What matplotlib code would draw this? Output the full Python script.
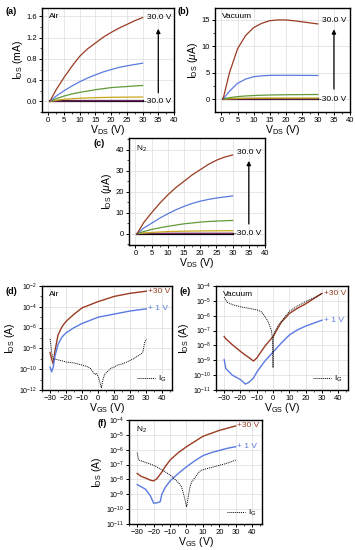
import numpy as np
import matplotlib
matplotlib.use("Agg")
import matplotlib.pyplot as plt
from matplotlib.ticker import MultipleLocator, LogLocator, NullFormatter

plt.rcParams['font.family'] = ['Liberation Sans', 'DejaVu Sans']
plt.rcParams['mathtext.fontset'] = 'custom'
plt.rcParams['mathtext.rm'] = 'Liberation Sans'
plt.rcParams['mathtext.it'] = 'Liberation Sans:italic'

BROWN = '#9b3b22'
BLUE = '#5a7ae0'
GREEN = '#629a38'
YELLOW = '#c9a81a'
PURPLE = '#7a2a6a'

# output curves (VDS in V)
vds = [0.5, 2.5, 5, 7.5, 10, 12.5, 15, 17.5, 20, 22.5, 25, 27.5, 30]

# (a) air, mA
air_out = {
    'black': [0] * 13,
    'purple': [0, 0.004, 0.007, 0.009, 0.01, 0.011, 0.012, 0.012, 0.013, 0.013, 0.013, 0.013, 0.013],
    'yellow': [0, 0.02, 0.04, 0.05, 0.06, 0.065, 0.07, 0.074, 0.077, 0.079, 0.08, 0.081, 0.082],
    'green': [0, 0.05, 0.1, 0.14, 0.17, 0.195, 0.22, 0.24, 0.26, 0.27, 0.28, 0.29, 0.3],
    'blue': [0, 0.1, 0.2, 0.29, 0.37, 0.44, 0.5, 0.555, 0.6, 0.64, 0.67, 0.695, 0.72],
    'brown': [0, 0.22, 0.45, 0.66, 0.85, 0.99, 1.1, 1.21, 1.3, 1.38, 1.45, 1.52, 1.58],
}
# (b) vacuum, uA
vac_out = {
    'black': [0] * 13,
    'purple': [0, 0.02, 0.04, 0.05, 0.05, 0.05, 0.05, 0.05, 0.05, 0.05, 0.05, 0.05, 0.05],
    'yellow': [0, 0.1, 0.15, 0.18, 0.2, 0.2, 0.21, 0.21, 0.21, 0.21, 0.21, 0.21, 0.21],
    'green': [0, 0.3, 0.5, 0.62, 0.7, 0.76, 0.8, 0.83, 0.85, 0.87, 0.88, 0.89, 0.9],
    'blue': [0, 1.5, 3.0, 3.8, 4.25, 4.42, 4.5, 4.52, 4.52, 4.52, 4.5, 4.5, 4.48],
    'brown': [0, 5.0, 9.5, 12.0, 13.5, 14.3, 14.8, 14.95, 14.95, 14.8, 14.6, 14.4, 14.2],
}
# (c) N2, uA
n2_out = {
    'black': [0] * 13,
    'purple': [0, 0.05, 0.1, 0.12, 0.14, 0.15, 0.15, 0.16, 0.16, 0.16, 0.16, 0.16, 0.16],
    'yellow': [0, 0.3, 0.6, 0.8, 1.0, 1.1, 1.2, 1.25, 1.3, 1.33, 1.36, 1.38, 1.4],
    'green': [0, 1.0, 2.0, 2.8, 3.5, 4.1, 4.7, 5.1, 5.5, 5.8, 6.0, 6.15, 6.3],
    'blue': [0, 2.6, 5.0, 7.4, 9.5, 11.4, 13.0, 14.4, 15.5, 16.3, 17.0, 17.5, 18.0],
    'brown': [0, 5.2, 10.0, 14.5, 18.5, 22.0, 25.0, 28.0, 30.5, 33.0, 35.0, 36.5, 37.5],
}
order = ['black', 'purple', 'yellow', 'green', 'blue', 'brown']
colmap = {'black': 'k', 'purple': PURPLE, 'yellow': YELLOW, 'green': GREEN,
          'blue': BLUE, 'brown': BROWN}

# transfer curves (VGS in V), log10 of current
vgs_d = [-30, -29, -28, -27, -25, -22.5, -20, -15, -10, -5, 0, 5, 10, 15, 20, 25, 30]
air_30 = [-8.4, -9.0, -9.5, -8.3, -6.7, -5.9, -5.4, -4.7, -4.1, -3.8, -3.5, -3.25, -3.0, -2.85, -2.7, -2.6, -2.5]
air_1 = [-9.8, -10.25, -9.8, -8.8, -7.6, -6.9, -6.5, -6.0, -5.6, -5.3, -5.0, -4.85, -4.7, -4.55, -4.4, -4.3, -4.2]
vg_air = [-30, -29.5, -29, -28, -25, -20, -15, -10, -7, -5, -3, -2, -1, 0, 1, 2, 3, 4, 6, 8, 10, 12, 15, 18, 20, 22, 25, 27, 28, 28.5, 29, 30]
ig_air = [-7.1, -7.6, -8.4, -9.0, -9.1, -9.3, -9.4, -9.6, -9.75, -9.9, -10.3, -10.5, -10.4, -10.7, -11.2, -11.8, -11.0, -10.5, -10.2, -9.9, -9.8, -9.6, -9.5, -9.3, -9.15, -9.0, -8.7, -8.5, -8.3, -7.8, -7.4, -7.1]

vgs_e = [-30, -29, -25, -20, -17, -15, -12, -10, -5, 0, 5, 10, 15, 20, 25, 30]
vac_30 = [-7.4, -7.55, -7.95, -8.4, -8.65, -8.8, -9.05, -8.85, -8.05, -7.4, -6.45, -5.85, -5.5, -5.2, -4.85, -4.5]
vac_1 = [-8.95, -9.55, -10.0, -10.3, -10.6, -10.5, -10.2, -9.8, -9.05, -8.45, -7.85, -7.3, -6.95, -6.7, -6.5, -6.3]
vg_vac = [-30, -29, -28, -25, -20, -15, -10, -7, -5, -3, -2, -1, -0.5, -0.2, 0, 0.2, 0.5, 1, 3, 5, 10, 15, 20, 25, 30]
ig_vac = [-4.75, -4.95, -5.1, -5.25, -5.4, -5.5, -5.6, -5.75, -6.05, -6.4, -6.7, -7.0, -7.4, -8.0, -9.5, -7.6, -7.3, -7.1, -6.7, -6.4, -5.7, -5.35, -5.05, -4.8, -4.5]

vgs_f = [-30, -27.5, -25, -22, -20, -18, -16, -15, -13, -10, -5, 0, 5, 10, 15, 20, 25, 30]
n2_30 = [-7.6, -7.8, -7.9, -8.05, -8.1, -7.95, -7.65, -7.5, -7.15, -6.7, -6.2, -5.8, -5.45, -5.1, -4.9, -4.7, -4.55, -4.4]
n2_1 = [-8.35, -8.5, -8.65, -9.1, -9.6, -9.58, -9.5, -9.0, -8.55, -8.1, -7.6, -7.15, -6.75, -6.4, -6.2, -6.05, -5.9, -5.8]
vg_n2 = [-30, -29.5, -29, -25, -20, -15, -10, -5, -3, -2, -1, 0, 0.5, 1, 2, 3, 5, 8, 10, 15, 20, 25, 30]
ig_n2 = [-6.2, -6.5, -6.7, -6.85, -7.05, -7.35, -7.7, -8.2, -8.5, -8.9, -9.3, -9.85, -9.6, -9.2, -8.6, -8.2, -7.9, -7.45, -7.35, -7.2, -7.05, -6.9, -6.7]

fig = plt.figure(figsize=(3.55, 5.5), dpi=100)
W, H = 355, 550


def add_ax(l, r, t, b):
    return fig.add_axes([l / W, 1 - b / H, (r - l) / W, (b - t) / H])


def style(ax):
    for s in ax.spines.values():
        s.set_linewidth(1.0)
    ax.tick_params(labelsize=5.5, length=2.5, width=0.7, pad=1.2)
    ax.tick_params(which='minor', length=1.5, width=0.5)
    ax.grid(True, color='#dddddd', lw=0.5)
    ax.set_axisbelow(True)


def output_panel(ax, data, ylim, ymaj, ylabel, name, arrow, top_txt_y):
    for k in order:
        lw = 1.6 if k == 'black' else 0.9
        ax.plot(vds, data[k], color=colmap[k], lw=lw)
    ax.set_xlim(-2, 40)
    ax.set_ylim(*ylim)
    ax.xaxis.set_major_locator(MultipleLocator(5))
    ax.xaxis.set_minor_locator(MultipleLocator(2.5))
    ax.yaxis.set_major_locator(MultipleLocator(ymaj))
    ax.yaxis.set_minor_locator(MultipleLocator(ymaj / 2))
    style(ax)
    ax.set_xlabel(r'V$_{\mathrm{DS}}$ (V)', fontsize=7.5, labelpad=-0.5)
    ax.set_ylabel(ylabel, fontsize=7.5, labelpad=1)
    ax.text(0.05, 0.95, name, transform=ax.transAxes, fontsize=6, va='top')
    ax.annotate('', xy=(35, arrow[1]), xytext=(35, arrow[0]),
                arrowprops=dict(arrowstyle='-|>', color='k', lw=0.9, mutation_scale=6))
    ax.text(31.3, top_txt_y, '30.0 V', fontsize=6, va='center')
    ax.text(30.5, 0, '-30.0 V', fontsize=6, va='center')


def transfer_panel(ax, vg, i30, i1, vgi, ig, ylim, step, name):
    ax.plot(vg, 10 ** np.array(i30), color=BROWN, lw=1.0)
    ax.plot(vg, 10 ** np.array(i1), color=BLUE, lw=1.0)
    ax.plot(vgi, 10 ** np.array(ig), color='k', lw=0.7, ls=(0, (1, 1)), label=r'I$_{\mathrm{G}}$')
    ax.set_yscale('log')
    ax.set_xlim(-35, 46)
    ax.set_ylim(*ylim)
    ax.xaxis.set_major_locator(MultipleLocator(10))
    ax.xaxis.set_minor_locator(MultipleLocator(5))
    lo, hi = int(np.log10(ylim[0])), int(np.log10(ylim[1]))
    ax.set_yticks([10.0 ** e for e in range(lo, hi + 1, step)])
    ax.yaxis.set_minor_locator(LogLocator(base=10, numticks=20))
    ax.yaxis.set_minor_formatter(NullFormatter())
    style(ax)
    ax.tick_params(axis='y', labelsize=5)
    ax.set_xlabel(r'V$_{\mathrm{GS}}$ (V)', fontsize=7.5, labelpad=-0.5)
    ax.set_ylabel(r'I$_{\mathrm{DS}}$ (A)', fontsize=7.5, labelpad=1)
    ax.text(0.05, 0.95, name, transform=ax.transAxes, fontsize=6, va='top')
    ax.text(31, 10 ** i30[-1], '+30 V', color=BROWN, fontsize=6, va='center')
    ax.text(31, 10 ** i1[-1], '+ 1 V', color=BLUE, fontsize=6, va='center')
    ax.legend(loc='lower right', frameon=False, fontsize=6, handlelength=2.2,
              handletextpad=0.3, borderaxespad=0.3)


ax_a = add_ax(42, 174, 8, 112)
output_panel(ax_a, air_out, (-0.2, 1.76), 0.4, r'I$_{\mathrm{DS}}$ (mA)', 'Air', (0.11, 1.42), 1.58)
ax_b = add_ax(215, 350, 8, 112)
output_panel(ax_b, vac_out, (-2.4, 17.2), 5, r'I$_{\mathrm{DS}}$ ($\mu$A)', 'Vacuum', (1.4, 13.7), 14.9)
ax_c = add_ax(129, 265, 138, 245)
output_panel(ax_c, n2_out, (-5.4, 45.6), 10, r'I$_{\mathrm{DS}}$ ($\mu$A)', r'N$_{2}$', (3.3, 36), 38.5)

ax_d = add_ax(42, 172, 286, 390)
transfer_panel(ax_d, vgs_d, air_30, air_1, vg_air, ig_air, (1e-12, 1e-2), 2, 'Air')
ax_e = add_ax(216, 348, 286, 390)
transfer_panel(ax_e, vgs_e, vac_30, vac_1, vg_vac, ig_vac, (1e-11, 1e-4), 1, 'Vacuum')
ax_f = add_ax(129, 262, 420, 524)
transfer_panel(ax_f, vgs_f, n2_30, n2_1, vg_n2, ig_n2, (1e-11, 1e-4), 1, r'N$_{2}$')

for lab, x, y in [('(a)', 5, 12), ('(b)', 178, 12), ('(c)', 93, 143),
                  ('(d)', 5, 291), ('(e)', 180, 291), ('(f)', 97, 424)]:
    fig.text(x / W, 1 - y / H, lab, fontsize=6.5, fontweight='bold', va='center')

fig.savefig('out.png', dpi=100)
